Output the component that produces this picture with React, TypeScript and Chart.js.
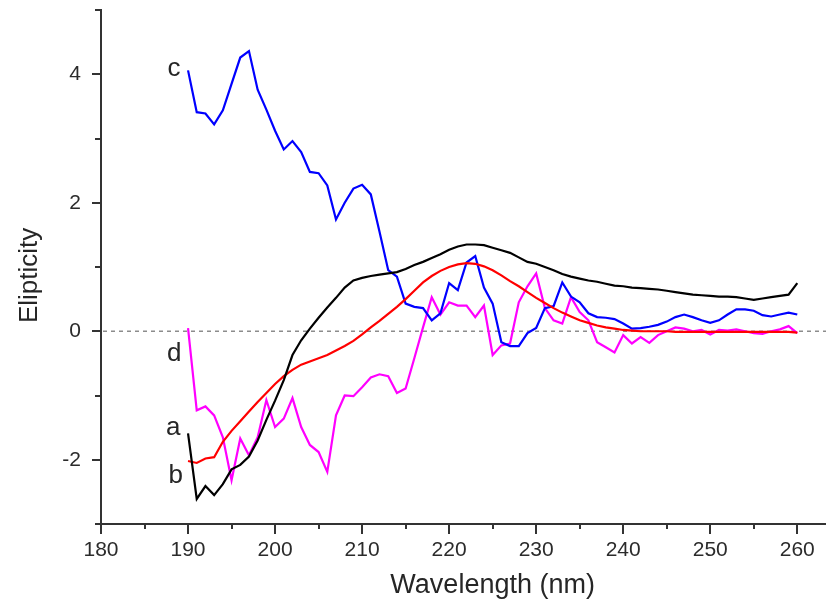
import React, { useEffect, useRef } from "react";
import { Chart, registerables } from "chart.js";

Chart.register(...registerables);

const wavelengths = [
  190, 191, 192, 193, 194, 195, 196, 197, 198, 199,
  200, 201, 202, 203, 204, 205, 206, 207, 208, 209,
  210, 211, 212, 213, 214, 215, 216, 217, 218, 219,
  220, 221, 222, 223, 224, 225, 226, 227, 228, 229,
  230, 231, 232, 233, 234, 235, 236, 237, 238, 239,
  240, 241, 242, 243, 244, 245, 246, 247, 248, 249,
  250, 251, 252, 253, 254, 255, 256, 257, 258, 259,
  260,
];

const seriesA = [
  -1.59, -2.61, -2.41, -2.55, -2.38, -2.15, -2.08, -1.95, -1.70, -1.38,
  -1.08, -0.76, -0.37, -0.14, 0.04, 0.21, 0.37, 0.52, 0.68, 0.79,
  0.83, 0.86, 0.88, 0.90, 0.92, 0.97, 1.03, 1.08, 1.14, 1.20,
  1.27, 1.32, 1.35, 1.35, 1.34, 1.30, 1.26, 1.22, 1.15, 1.08,
  1.05, 1.00, 0.95, 0.89, 0.85, 0.82, 0.79, 0.77, 0.74, 0.71,
  0.70, 0.68, 0.67, 0.66, 0.65, 0.63, 0.61, 0.59, 0.57, 0.56,
  0.55, 0.54, 0.54, 0.53, 0.51, 0.49, 0.51, 0.53, 0.55, 0.57,
  0.75,
];

const seriesB = [
  -2.02, -2.05, -1.98, -1.96, -1.72, -1.55, -1.40, -1.25, -1.10, -0.96,
  -0.82, -0.70, -0.60, -0.52, -0.47, -0.42, -0.37, -0.30, -0.23, -0.15,
  -0.05, 0.06, 0.16, 0.27, 0.38, 0.50, 0.63, 0.76, 0.86, 0.94,
  1.00, 1.04, 1.06, 1.05, 1.01, 0.95, 0.87, 0.78, 0.70, 0.61,
  0.52, 0.44, 0.36, 0.29, 0.23, 0.17, 0.13, 0.09, 0.06, 0.04,
  0.02, 0.01, 0.00, 0.00, 0.00, 0.00, -0.01, -0.01, -0.01, -0.01,
  -0.01, -0.01, -0.01, -0.01, -0.01, -0.01, -0.01, -0.01, -0.01, -0.01,
  -0.02,
];

const seriesC = [
  4.06, 3.41, 3.39, 3.22, 3.44, 3.85, 4.26, 4.36, 3.76, 3.45,
  3.12, 2.83, 2.96, 2.79, 2.48, 2.46, 2.27, 1.74, 2.00, 2.22,
  2.28, 2.13, 1.55, 0.95, 0.85, 0.43, 0.38, 0.36, 0.17, 0.28,
  0.75, 0.64, 1.07, 1.17, 0.68, 0.43, -0.17, -0.23, -0.23, -0.03,
  0.05, 0.36, 0.39, 0.76, 0.54, 0.45, 0.28, 0.22, 0.21, 0.19,
  0.12, 0.04, 0.05, 0.07, 0.10, 0.15, 0.22, 0.26, 0.22, 0.17,
  0.13, 0.17, 0.26, 0.34, 0.34, 0.32, 0.25, 0.23, 0.26, 0.29,
  0.26,
];

const seriesD = [
  0.05, -1.23, -1.17, -1.31, -1.65, -2.32, -1.67, -1.93, -1.65, -1.07,
  -1.49, -1.36, -1.04, -1.49, -1.77, -1.88, -2.19, -1.31, -1.00, -1.01,
  -0.87, -0.72, -0.67, -0.70, -0.96, -0.89, -0.42, 0.06, 0.53, 0.26,
  0.45, 0.40, 0.40, 0.22, 0.40, -0.37, -0.22, -0.19, 0.45, 0.70,
  0.90, 0.36, 0.17, 0.12, 0.53, 0.30, 0.17, -0.17, -0.25, -0.33,
  -0.06, -0.19, -0.09, -0.18, -0.06, 0.00, 0.06, 0.04, 0.00, 0.02,
  -0.05, 0.02, 0.01, 0.03, 0.00, -0.03, -0.04, 0.00, 0.03, 0.08,
  -0.03,
];

const seriesNames = ["a", "b", "c", "d"];
const seriesColors = ["#000000", "#ff0000", "#0000ff", "#ff00ff"];

// curve tag anchors (data coordinates)
const tagX = [188.3, 188.6, 188.4, 188.4];
const tagY = [-1.62, -2.36, 3.97, -0.47];

const xTitle = "Wavelength (nm)";
const yTitle = "Elipticity";

const FONT = '"Liberation Sans", Arial, Helvetica, sans-serif';
const AXIS_COLOR = "#333333";

const toPoints = (ys: number[]) => wavelengths.map((x, i) => ({ x, y: ys[i] }));

const overlayPlugin = {
  id: "overlay",
  beforeDatasetsDraw(chart: any) {
    const { ctx, chartArea, scales } = chart;
    const y0 = scales.y.getPixelForValue(0);
    ctx.save();
    ctx.strokeStyle = "#8c8c8c";
    ctx.lineWidth = 1.5;
    ctx.setLineDash([4, 4]);
    ctx.beginPath();
    ctx.moveTo(chartArea.left + 2, y0);
    ctx.lineTo(chartArea.right, y0);
    ctx.stroke();
    ctx.restore();
  },
  afterDraw(chart: any) {
    const { ctx, chartArea, scales } = chart;
    const xs = scales.x;
    const ys = scales.y;
    ctx.save();
    ctx.strokeStyle = AXIS_COLOR;
    ctx.lineWidth = 2;
    // x ticks
    for (let v = 180; v <= xs.max; v += 5) {
      const px = Math.round(xs.getPixelForValue(v));
      const len = v % 10 === 0 ? 10 : 5;
      ctx.beginPath();
      ctx.moveTo(px, chartArea.bottom);
      ctx.lineTo(px, chartArea.bottom + len);
      ctx.stroke();
    }
    // y ticks
    for (let v = ys.min; v <= ys.max; v += 1) {
      const py = Math.round(ys.getPixelForValue(v));
      const len = v % 2 === 0 ? 9 : 6;
      ctx.beginPath();
      ctx.moveTo(chartArea.left, py);
      ctx.lineTo(chartArea.left - len, py);
      ctx.stroke();
    }
    // curve tags
    ctx.fillStyle = "#262626";
    ctx.font = `26px ${FONT}`;
    ctx.textAlign = "center";
    ctx.textBaseline = "alphabetic";
    seriesNames.forEach((name, i) => {
      ctx.fillText(name, xs.getPixelForValue(tagX[i]), ys.getPixelForValue(tagY[i]));
    });
    // axis titles
    ctx.font = `27px ${FONT}`;
    ctx.fillText(xTitle, xs.getPixelForValue(225), 593);
    ctx.translate(37, ys.getPixelForValue(0.87));
    ctx.rotate(-Math.PI / 2);
    ctx.font = `26px ${FONT}`;
    ctx.fillText(yTitle, 0, 0);
    ctx.restore();
  },
};

export default function App() {
  const canvasRef = useRef<HTMLCanvasElement>(null);

  useEffect(() => {
    if (!canvasRef.current) return;
    const chart = new Chart(canvasRef.current, {
      type: "line",
      data: {
        datasets: [
          { label: "a", data: toPoints(seriesA), borderColor: seriesColors[0] },
          { label: "b", data: toPoints(seriesB), borderColor: seriesColors[1] },
          { label: "c", data: toPoints(seriesC), borderColor: seriesColors[2] },
          { label: "d", data: toPoints(seriesD), borderColor: seriesColors[3] },
        ].map((d) => ({
          ...d,
          borderWidth: 2.2,
          pointRadius: 0,
          tension: 0,
          fill: false,
        })),
      },
      options: {
        animation: false,
        responsive: false,
        devicePixelRatio: 1,
        layout: { padding: { top: 10, right: 0, bottom: 0, left: 0 } },
        plugins: {
          legend: { display: false },
          tooltip: { enabled: false },
        },
        scales: {
          x: {
            type: "linear",
            min: 180,
            max: 263.3,
            grid: { display: false, drawTicks: false },
            border: { display: true, color: AXIS_COLOR, width: 2 },
            ticks: {
              stepSize: 5,
              includeBounds: false,
              autoSkip: false,
              maxRotation: 0,
              padding: 14,
              color: "#2b2b2b",
              font: { family: FONT, size: 21 },
              callback: (v: any) => (Number(v) % 10 === 0 ? String(v) : ""),
            },
            afterFit: (s: any) => {
              s.height = 81;
              s.paddingLeft = 0;
              s.paddingRight = 0;
            },
          },
          y: {
            type: "linear",
            min: -3,
            max: 5,
            grid: { display: false, drawTicks: false },
            border: { display: true, color: AXIS_COLOR, width: 2 },
            ticks: {
              stepSize: 1,
              includeBounds: false,
              autoSkip: false,
              padding: 20,
              color: "#2b2b2b",
              font: { family: FONT, size: 21 },
              callback: (v: any) => (Number(v) % 2 === 0 ? String(v) : ""),
            },
            afterFit: (s: any) => {
              s.width = 101;
              s.paddingTop = 0;
              s.paddingBottom = 0;
            },
          },
        },
      },
      plugins: [overlayPlugin],
    });
    return () => chart.destroy();
  }, []);

  return (
    <div style={{ position: "absolute", left: 0, top: 0, width: 826, height: 605, background: "#ffffff" }}>
      <canvas ref={canvasRef} width={826} height={605} />
    </div>
  );
}
